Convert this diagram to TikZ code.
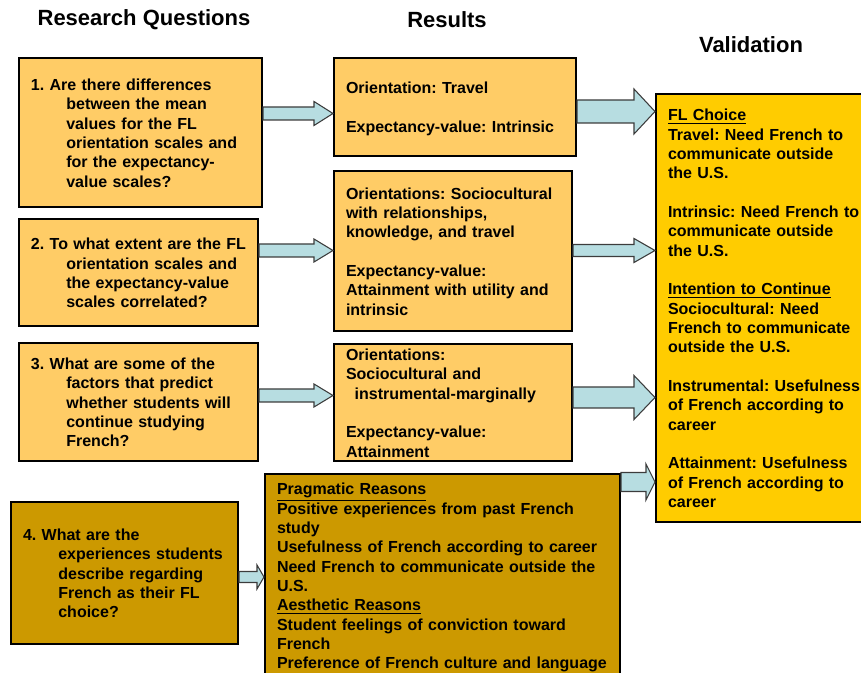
\documentclass[tikz,border=0pt]{standalone}
\usepackage{fontspec}
\setmainfont{Liberation Sans}
\usepackage{tikz}
\usetikzlibrary{calc}

\definecolor{lightgold}{HTML}{FFCC66}
\definecolor{gold}{HTML}{FFCC00}
\definecolor{darkgold}{HTML}{CC9900}
\definecolor{arrowblue}{RGB}{183,221,225}
\definecolor{arrowedge}{RGB}{60,60,60}

\newcommand{\hang}{\hspace*{26.5pt}}
\newcommand{\lines}[1]{\raisebox{-1.8pt}[\height][\depth]{\begin{tabular}{@{}l@{}}#1\end{tabular}}}
% block arrow: from, to, y, shaft half, head half, head length (in px)
\newcommand{\flowarrow}[6]{%
  \filldraw[flow] let \p1=(#1.east), \p2=(#2.west), \p3=(0,#3) in
    (\x1,\y3+#4*0.75pt) -- (\x2-#6*0.75pt,\y3+#4*0.75pt) -- (\x2-#6*0.75pt,\y3+#5*0.75pt)
    -- (\x2,\y3) -- (\x2-#6*0.75pt,\y3-#5*0.75pt) -- (\x2-#6*0.75pt,\y3-#4*0.75pt)
    -- (\x1,\y3-#4*0.75pt) -- cycle;}

\begin{document}
\begin{tikzpicture}[
    x=0.75pt, y=-0.75pt,
    title/.style={font=\fontsize{16.5pt}{19pt}\selectfont\bfseries},
    box/.style={draw, line width=1.5pt, anchor=north west, inner xsep=9pt, inner ysep=0pt,
      align=left, font=\fontsize{12pt}{14.5pt}\selectfont\bfseries\frenchspacing},
    flow/.style={fill=arrowblue, draw=arrowedge, line width=0.8pt, line join=miter}
  ]
  \useasboundingbox (0,0) rectangle (861,673);

  \node[title] (qhead) at (144,20) {Research Questions};
  \node[title] (rhead) at (447,20) {Results};
  \node[title] (vhead) at (751,45) {Validation};

  % research questions
  \node[box, fill=lightgold, minimum width=182.25pt, minimum height=111.75pt, text width=164.25pt] (q1) at (18,57)
    {\lines{1. Are there differences\\ \hang between the mean\\ \hang values for the FL\\ \hang orientation scales and\\ \hang for the expectancy-\\ \hang value scales?}};
  \node[box, fill=lightgold, minimum width=179.25pt, minimum height=80.25pt, text width=161.25pt] (q2) at (18,218)
    {\lines{2. To what extent are the FL\\ \hang orientation scales and\\ \hang the expectancy-value\\ \hang scales correlated?}};
  \node[box, fill=lightgold, minimum width=179.25pt, minimum height=88.5pt, text width=161.25pt] (q3) at (18,342)
    {\lines{3. What are some of the\\ \hang factors that predict\\ \hang whether students will\\ \hang continue studying\\ \hang French?}};
  \node[box, fill=darkgold, minimum width=170.25pt, minimum height=106.5pt, text width=152.25pt] (q4) at (10,501)
    {\lines{4. What are the\\ \hang experiences students\\ \hang describe regarding\\ \hang French as their FL\\ \hang choice?}};

  % results
  \node[box, fill=lightgold, minimum width=181.5pt, minimum height=73.5pt, text width=163.5pt] (r1) at (333,57)
    {\lines{Orientation: Travel\\[14.5pt] Expectancy-value: Intrinsic}};
  \node[box, fill=lightgold, minimum width=178.5pt, minimum height=120pt, text width=160.5pt] (r2) at (333,170)
    {\lines{Orientations: Sociocultural\\ with relationships,\\ knowledge, and travel\\[14.5pt] Expectancy-value:\\ Attainment with utility and\\ intrinsic}};
  \node[box, fill=lightgold, minimum width=178.5pt, minimum height=87.75pt, text width=160.5pt] (r3) at (333,343)
    {\lines{Orientations:\\ Sociocultural and\\ \hspace*{6.5pt}instrumental-marginally\\[14.5pt] Expectancy-value:\\ Attainment}};
  \node[box, fill=darkgold, minimum width=266.25pt, minimum height=152.25pt, text width=248.25pt] (r4) at (264,473)
    {\lines{\underline{Pragmatic Reasons}\\ Positive experiences from past French\\ study\\ Usefulness of French according to career\\ Need French to communicate outside the\\ U.S.\\ \underline{Aesthetic Reasons}\\ Student feelings of conviction toward\\ French\\ Preference of French culture and language}};

  % validation
  \node[box, fill=gold, minimum width=162pt, minimum height=321pt, text width=144pt] (val) at (655,93)
    {\lines{\underline{FL Choice}\\ Travel: Need French to\\ communicate outside\\ the U.S.\\[14.5pt]
     Intrinsic: Need French to\\ communicate outside\\ the U.S.\\[14.5pt]
     \underline{Intention to Continue}\\ Sociocultural: Need\\ French to communicate\\ outside the U.S.\\[14.5pt]
     Instrumental: Usefulness\\ of French according to\\ career\\[14.5pt]
     Attainment: Usefulness\\ of French according to\\ career}};

  \flowarrow{q1}{r1}{113.5}{6.5}{12}{19}
  \flowarrow{q2}{r2}{250.5}{6.5}{11.5}{19}
  \flowarrow{q3}{r3}{395.5}{6.5}{11.5}{19}
  \flowarrow{q4}{r4}{577}{5.5}{12}{7}
  \flowarrow{r1}{val}{111.5}{11.5}{22.5}{21}
  \flowarrow{r2}{val}{250.5}{6}{12}{21}
  \flowarrow{r3}{val}{397.5}{10.5}{22}{21}
  \flowarrow{r4}{val}{482}{9.5}{18}{9}
\end{tikzpicture}
\end{document}
